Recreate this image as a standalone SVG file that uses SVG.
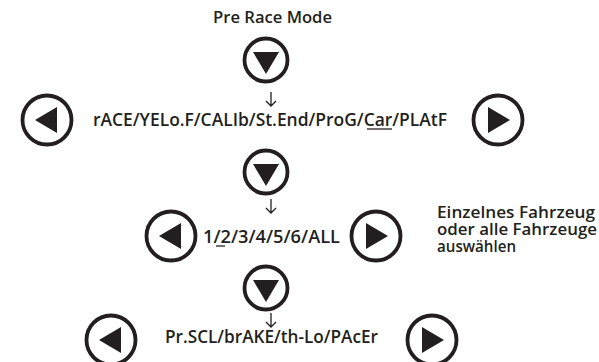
<svg xmlns="http://www.w3.org/2000/svg" width="599" height="362" viewBox="0 0 599 362">
<defs>
<style>
.t{font-family:"Open Sans","Noto Sans","Liberation Sans",sans-serif;font-weight:600;fill:#231f20}
.c{fill:none;stroke:#231f20;stroke-width:3.8}
.tri{fill:#231f20}
.ar{fill:none;stroke:#231f20;stroke-width:1.3}
.ul{stroke:#231f20;stroke-width:1.3}
</style>
<g id="downBtn"><circle class="c" r="21.5"/><path class="tri" d="M-13,-8 L13,-8 L0,14 Z"/></g>
<g id="leftBtn"><circle class="c" r="24.5"/><path class="tri" d="M-12,0 L10,-13 L10,13 Z"/></g>
<g id="rightBtn"><circle class="c" r="24.5"/><path class="tri" d="M12,0 L-10,-13 L-10,13 Z"/></g>
</defs>
<rect width="599" height="362" fill="#fff"/>
<g id="title"><text class="t" x="213" y="23" font-size="16" textLength="119" lengthAdjust="spacingAndGlyphs">Pre Race Mode</text></g>
<g id="down1"><use href="#downBtn" x="266" y="60"/></g>
<g id="row2">
<use href="#leftBtn" x="47" y="120"/>
<text class="t" x="93" y="126" font-size="18" textLength="354" lengthAdjust="spacingAndGlyphs">rACE/YELo.F/CALIb/St.End/ProG/Car/PLAtF</text>
<line class="ul" x1="367" y1="129" x2="392" y2="129"/>
<use href="#rightBtn" x="498" y="120"/>
</g>
<g id="down2"><use href="#downBtn" x="266" y="172"/></g>
<g id="row3">
<use href="#leftBtn" x="171" y="236"/>
<text class="t" x="203" y="243" font-size="18" textLength="137" lengthAdjust="spacingAndGlyphs">1/2/3/4/5/6/ALL</text>
<line class="ul" x1="216" y1="246" x2="225" y2="246"/>
<use href="#rightBtn" x="376" y="236"/>
</g>
<g id="note">
<text class="t" font-size="16.5"><tspan x="437" y="218" textLength="158" lengthAdjust="spacingAndGlyphs">Einzelnes Fahrzeug</tspan><tspan x="437" y="235" textLength="160" lengthAdjust="spacingAndGlyphs">oder alle Fahrzeuge</tspan><tspan x="437" y="252" textLength="79" lengthAdjust="spacingAndGlyphs">auswählen</tspan></text>
</g>
<g id="down3"><use href="#downBtn" x="266" y="288"/></g>
<g id="row4">
<use href="#leftBtn" x="111" y="340"/>
<text class="t" x="165" y="343" font-size="18" textLength="213" lengthAdjust="spacingAndGlyphs">Pr.SCL/brAKE/th-Lo/PAcEr</text>
<use href="#rightBtn" x="432" y="340"/>
</g>
<g id="connectors">
<path class="ar" d="M271,92 V106 M266,101 L271,106 L276,101"/>
<path class="ar" d="M271,199 V213 M266,208 L271,213 L276,208"/>
<path class="ar" d="M271,313 V327 M266,322 L271,327 L276,322"/>
</g>
</svg>
